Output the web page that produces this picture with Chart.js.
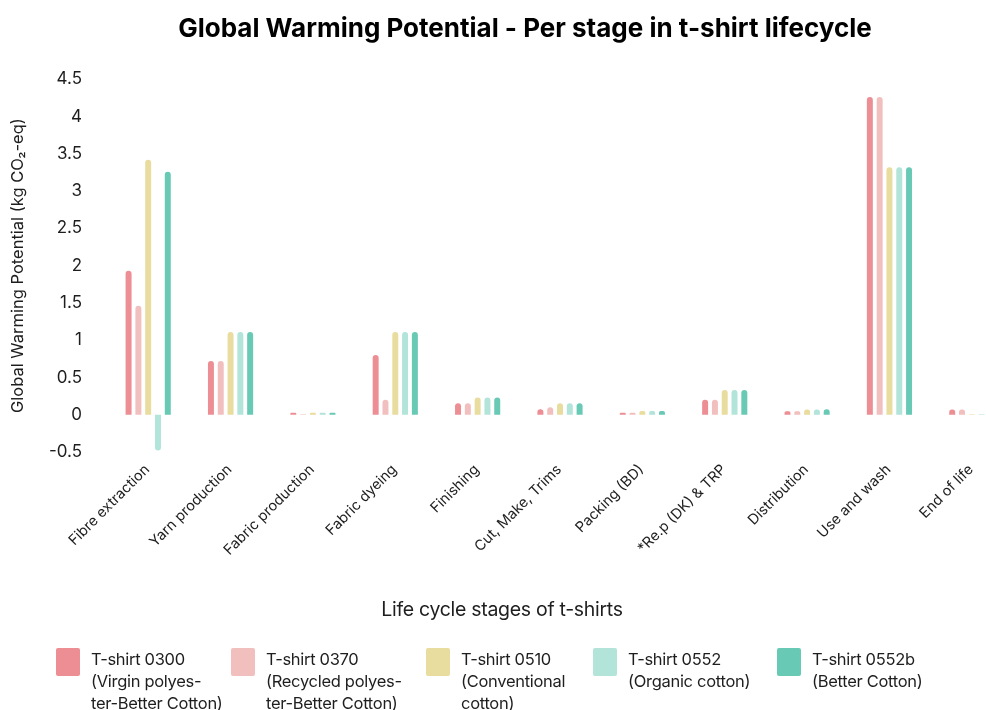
<!DOCTYPE html>
<html>
<head>
<meta charset="utf-8">
<title>Global Warming Potential</title>
<script src="https://cdn.jsdelivr.net/npm/chart.js@4/dist/chart.umd.min.js"></script>
<style>
  html, body { margin: 0; padding: 0; background: #fff; overflow: hidden; }
  #wrap { position: relative; width: 986px; height: 710px; overflow: hidden; }
  #chart { position: absolute; left: 0; top: 0; }
  #xtitle {
    position: absolute; left: 0; width: 1004px; top: 597px; text-align: center;
    font: 19.5px Inter, sans-serif; color: #1e1e1e; letter-spacing: -0.3px;
  }
  #legend {
    position: absolute; left: 56px; top: 648px;
    display: flex; justify-content: flex-start;
    font: 16.5px/22px Inter, sans-serif; color: #1e1e1e; letter-spacing: -0.3px;
  }
  .item { display: flex; align-items: flex-start; flex: none; }
  .item:nth-child(1) { width: 175px; }
  .item:nth-child(2) { width: 195px; }
  .item:nth-child(3) { width: 167px; }
  .item:nth-child(4) { width: 184px; }
  .item > div:last-child { white-space: nowrap; }
  .swatch { width: 24px; height: 28px; border-radius: 2px; margin-right: 11px; margin-top: 0px; flex: none; }
</style>
</head>
<body>
<div id="wrap">
  <canvas id="chart" width="1050" height="710"></canvas>
  <div id="xtitle"></div>
  <div id="legend"></div>
</div>
<script>
// Life-cycle stages along the x axis
const stages = [
  'Fibre extraction', 'Yarn production', 'Fabric production', 'Fabric dyeing',
  'Finishing', 'Cut, Make, Trims', 'Packing (BD)', '*Re.p (DK) & TRP',
  'Distribution', 'Use and wash', 'End of life'
];

// GWP per stage, kg CO2-eq, one array per t-shirt
const tshirt0300 = [1.93, 0.72, 0.025, 0.80, 0.155, 0.075, 0.025, 0.20, 0.045, 4.26, 0.07];
const tshirt0370 = [1.46, 0.72, 0.005, 0.20, 0.155, 0.10, 0.025, 0.20, 0.045, 4.26, 0.07];
const tshirt0510 = [3.42, 1.11, 0.025, 1.11, 0.23, 0.155, 0.05, 0.33, 0.07, 3.32, 0.005];
const tshirt0552 = [-0.48, 1.11, 0.025, 1.11, 0.23, 0.155, 0.05, 0.33, 0.07, 3.32, 0.005];
const tshirt0552b = [3.26, 1.11, 0.025, 1.11, 0.23, 0.155, 0.05, 0.33, 0.075, 3.32, 0.0];

// Series names (legend lines)
const seriesNames = [
  ['T-shirt 0300', '(Virgin polyes-', 'ter-Better Cotton)'],
  ['T-shirt 0370', '(Recycled polyes-', 'ter-Better Cotton)'],
  ['T-shirt 0510', '(Conventional', 'cotton)'],
  ['T-shirt 0552', '(Organic cotton)'],
  ['T-shirt 0552b', '(Better Cotton)']
];
const seriesColors = ['#ec8e94', '#f2bfbf', '#e9dc9f', '#b2e4d9', '#68c9b5'];
const seriesValues = [tshirt0300, tshirt0370, tshirt0510, tshirt0552, tshirt0552b];

// Y axis range and step
const yMin = -0.5, yMax = 4.5, yStep = 0.5;

const chartTitle = 'Global Warming Potential - Per stage in t-shirt lifecycle';
const yTitle = 'Global Warming Potential (kg CO\u2082-eq)';
const xTitle = 'Life cycle stages of t-shirts';

Chart.defaults.font.family = 'Inter, sans-serif';
Chart.defaults.color = '#1e1e1e';

const datasets = seriesValues.map((vals, i) => ({
  label: seriesNames[i].join(' '),
  data: vals,
  backgroundColor: seriesColors[i],
  borderWidth: 0,
  borderRadius: 3,
  borderSkipped: 'start',
  categoryPercentage: 0.595,
  barPercentage: 0.61
}));

new Chart(document.getElementById('chart'), {
  type: 'bar',
  data: { labels: stages, datasets },
  options: {
    responsive: false,
    devicePixelRatio: 1,
    animation: false,
    layout: { padding: 0 },
    plugins: {
      legend: { display: false },
      tooltip: { enabled: false },
      title: {
        display: true,
        text: chartTitle,
        font: { size: 26, weight: 'bold' },
        color: '#000',
        padding: { top: 14, bottom: 34 }
      }
    },
    scales: {
      x: {
        grid: { display: false, drawTicks: false },
        border: { display: false },
        ticks: {
          font: { size: 14.5 },
          color: '#1e1e1e',
          minRotation: 45,
          maxRotation: 45,
          autoSkip: false,
          padding: 9,
          labelOffset: -1
        },
        afterFit(scale) { scale.height = 258; }
      },
      y: {
        min: yMin,
        max: yMax,
        grid: { display: false, drawTicks: false },
        border: { display: false },
        ticks: {
          stepSize: yStep,
          font: { size: 17 },
          color: '#1e1e1e',
          padding: 25,
          callback: v => String(+Number(v).toFixed(1))
        },
        title: {
          display: true,
          text: yTitle,
          font: { size: 16.5 },
          color: '#1e1e1e',
          padding: { top: 8, bottom: 0 }
        },
        afterFit(scale) { scale.width = 107; }
      },
      spare: {
        position: 'right',
        display: true,
        grid: { display: false, drawTicks: false },
        border: { display: false },
        ticks: { display: false },
        afterFit(scale) { scale.width = 37; }
      }
    }
  }
});

// Axis title and legend below the plot
document.getElementById('xtitle').textContent = xTitle;
const legend = document.getElementById('legend');
seriesNames.forEach((lines, i) => {
  const item = document.createElement('div');
  item.className = 'item';
  const sw = document.createElement('div');
  sw.className = 'swatch';
  sw.style.background = seriesColors[i];
  const txt = document.createElement('div');
  lines.forEach(l => { const d = document.createElement('div'); d.textContent = l; txt.appendChild(d); });
  item.appendChild(sw);
  item.appendChild(txt);
  legend.appendChild(item);
});
</script>
</body>
</html>
